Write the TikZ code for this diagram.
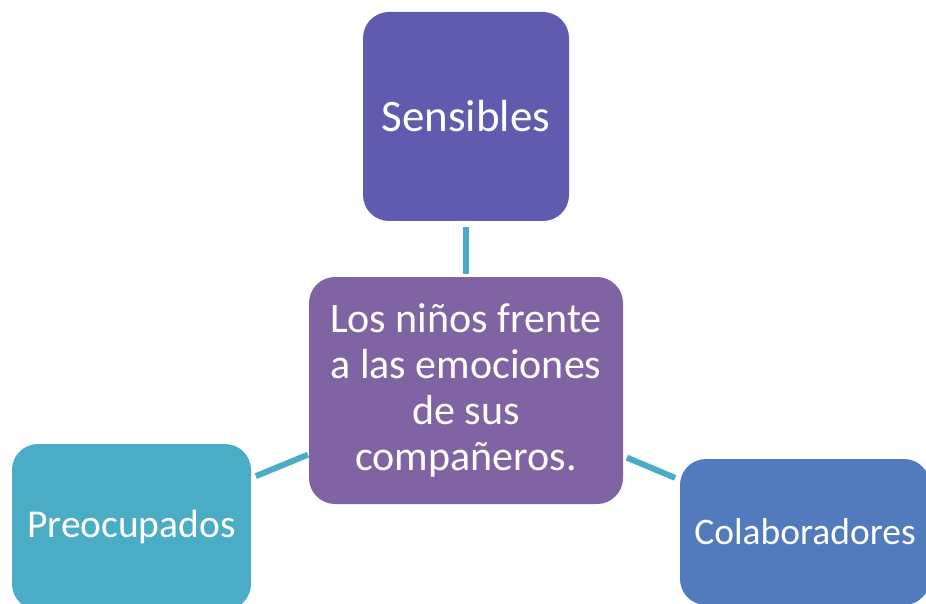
\documentclass[tikz,border=0pt]{standalone}
\usepackage{fontspec}
\setmainfont{Carlito}
\definecolor{cSens}{HTML}{5F5BAE}
\definecolor{cMid}{HTML}{8063A2}
\definecolor{cPreo}{HTML}{4BACC6}
\definecolor{cCola}{HTML}{517BBD}
\definecolor{cLink}{HTML}{4BACC6}
\begin{document}
\begin{tikzpicture}[x=1pt,y=-1pt,
  box/.style={rectangle, rounded corners=26pt, inner sep=0pt, text=white, align=center},
  link/.style={draw=cLink, line width=6pt}]
\useasboundingbox (0,0) rectangle (926,604);
\clip (0,0) rectangle (926,604);
\node[box, fill=cSens, minimum width=206pt, minimum height=209pt, font=\fontsize{45}{50}\selectfont] (sens) at (466,116.5){Sensibles};
\node[box, fill=cMid, minimum width=314pt, minimum height=227pt, font=\fontsize{42}{46}\selectfont] (mid) at (466,390.5){Los niños frente\\a las emociones\\de sus\\compañeros.};
\node[box, fill=cPreo, minimum width=239pt, minimum height=166pt, font=\fontsize{39.5}{45}\selectfont] (preo) at (131.5,527){Preocupados};
\node[box, fill=cCola, minimum width=250pt, minimum height=146pt, font=\fontsize{37.5}{42}\selectfont] (cola) at (805,532){Colaboradores};
\draw[link, shorten <=6pt, shorten >=3pt](sens) -- (mid);
\draw[link, shorten <=5pt, shorten >=1pt](preo) -- (mid);
\draw[link, shorten <=4pt, shorten >=5pt](mid) -- (cola);
\end{tikzpicture}
\end{document}
